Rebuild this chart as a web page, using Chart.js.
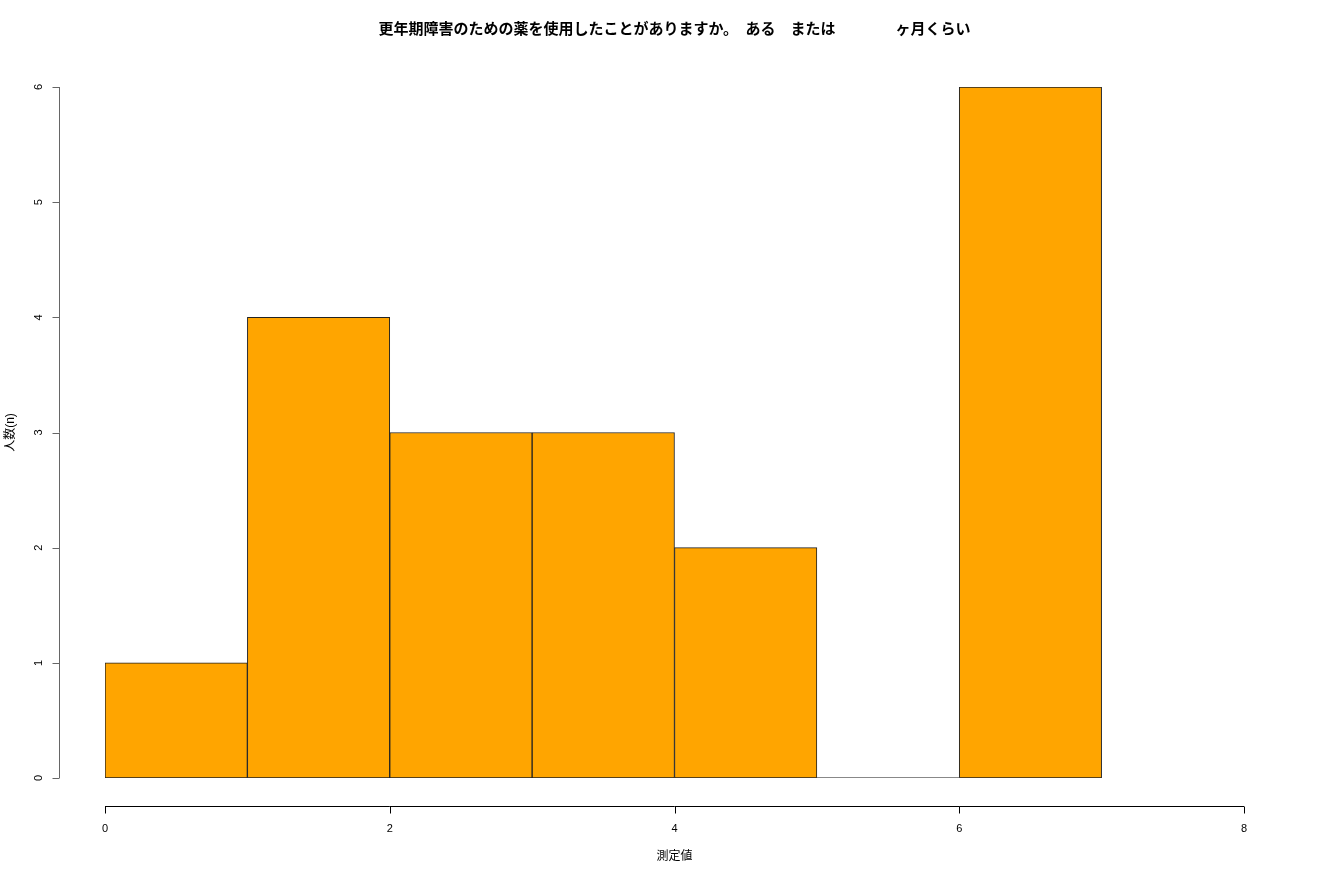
<!DOCTYPE html>
<html>
<head>
<meta charset="utf-8">
<script src="https://cdn.jsdelivr.net/npm/chart.js@4.4.1/dist/chart.umd.min.js"></script>
<style>
  html, body { margin: 0; padding: 0; background: #fff; }
  canvas { display: block; }
</style>
</head>
<body>
<canvas id="histChart" width="1320" height="880"></canvas>
<script>
// histogram bins (left edge of each 1-wide bin) and counts
const binStarts = [0, 1, 2, 3, 4, 5, 6];
const counts = [1, 4, 3, 3, 2, 0, 6];
const xTicks = [0, 2, 4, 6, 8];
const yTicks = [0, 1, 2, 3, 4, 5, 6];

const titleText = '更年期障害のための薬を使用したことがありますか。　ある　または　　　　ヶ月くらい';
const xTitle = '測定値';
const yTitle = '人数(n)';

const fontFamily = "'Liberation Sans', Arial, 'Noto Sans CJK JP', sans-serif";
Chart.defaults.font.family = fontFamily;
Chart.defaults.color = '#000';

// R draws its axes a bit away from the plot region
const AXIS_GAP_X = 46;   // y axis line left of x = 0
const AXIS_GAP_Y = 28;   // x axis line below y = 0
const TICK_LEN = 7;

const rAxes = {
  id: 'rAxes',
  afterDatasetsDraw(chart) {
    const { ctx, chartArea, scales: { x, y } } = chart;
    ctx.save();
    ctx.lineWidth = 1;

    // empty bins still get their baseline drawn
    ctx.strokeStyle = '#888';
    chart.getDatasetMeta(0).data.forEach((bar, i) => {
      if (counts[i] !== 0) return;
      const p = bar.getProps(['x', 'base', 'width'], true);
      const by = Math.round(p.base) - 0.5;
      ctx.beginPath();
      ctx.moveTo(p.x - p.width / 2, by);
      ctx.lineTo(p.x + p.width / 2, by);
      ctx.stroke();
    });

    // x axis
    ctx.strokeStyle = '#000';
    const yb = Math.round(chartArea.bottom + AXIS_GAP_Y) + 0.5;
    ctx.beginPath();
    ctx.moveTo(x.getPixelForValue(xTicks[0]), yb);
    ctx.lineTo(x.getPixelForValue(xTicks[xTicks.length - 1]), yb);
    xTicks.forEach(v => {
      const px = Math.round(x.getPixelForValue(v)) + 0.5;
      ctx.moveTo(px, yb);
      ctx.lineTo(px, yb + TICK_LEN);
    });
    ctx.stroke();

    // y axis
    ctx.strokeStyle = '#666';
    const xl = Math.round(chartArea.left - AXIS_GAP_X) + 0.5;
    ctx.beginPath();
    ctx.moveTo(xl, y.getPixelForValue(yTicks[0]));
    ctx.lineTo(xl, y.getPixelForValue(yTicks[yTicks.length - 1]));
    yTicks.forEach(v => {
      const py = Math.round(y.getPixelForValue(v)) + 0.5;
      ctx.moveTo(xl, py);
      ctx.lineTo(xl - TICK_LEN, py);
    });
    ctx.stroke();
    ctx.restore();
  }
};

const ctx = document.getElementById('histChart').getContext('2d');
new Chart(ctx, {
  type: 'bar',
  data: {
    datasets: [{
      data: binStarts.map((s, i) => ({ x: s + 0.5, y: counts[i] })),
      backgroundColor: '#FFA500',
      borderColor: '#222',
      borderWidth: 1,
      borderSkipped: false,
      barPercentage: 1,
      categoryPercentage: 1
    }]
  },
  options: {
    responsive: false,
    devicePixelRatio: 1,
    animation: false,
    layout: { padding: { left: 0, right: 76, top: 0, bottom: 0 } },
    plugins: {
      legend: { display: false },
      tooltip: { enabled: false },
      title: {
        display: true,
        fullSize: false,
        text: titleText,
        color: '#000',
        font: { size: 15, weight: 'bold' },
        padding: { top: 21, bottom: 48 }
      }
    },
    scales: {
      x: {
        type: 'linear',
        min: xTicks[0],
        max: xTicks[xTicks.length - 1],
        offset: false,
        afterBuildTicks: s => { s.ticks = xTicks.map(v => ({ value: v })); },
        afterFit: s => { s.height = 102; },
        border: { display: false },
        grid: { display: false, drawTicks: false, offset: false },
        ticks: { font: { size: 11 }, color: '#000', padding: 44, maxRotation: 0, autoSkip: false },
        title: { display: true, text: xTitle, color: '#000', font: { size: 12 }, padding: { top: 0, bottom: 16 } }
      },
      y: {
        type: 'linear',
        min: yTicks[0],
        max: yTicks[yTicks.length - 1],
        afterBuildTicks: s => { s.ticks = yTicks.map(v => ({ value: v })); },
        afterFit: s => { s.width = 105; },
        border: { display: false },
        grid: { display: false, drawTicks: false },
        ticks: { font: { size: 11 }, color: '#000', padding: 63, minRotation: 90, maxRotation: 90, crossAlign: 'center', autoSkip: false },
        title: { display: true, text: yTitle, color: '#000', font: { size: 12 }, padding: { top: 3, bottom: 0 } }
      }
    }
  },
  plugins: [rAxes]
});
</script>
</body>
</html>
